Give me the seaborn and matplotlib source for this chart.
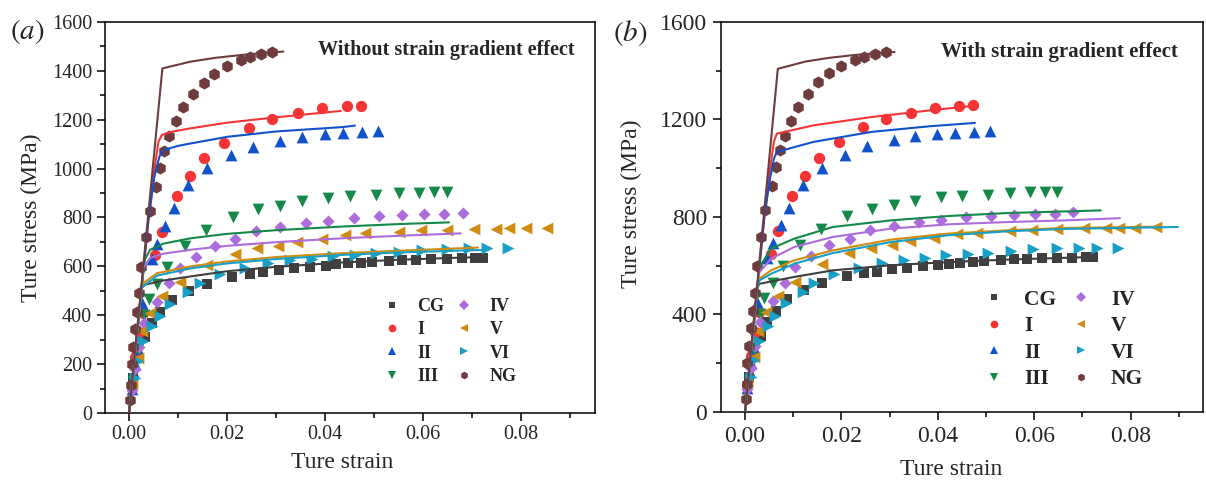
import pandas as pd
import matplotlib.pyplot as plt
import seaborn as sns
from matplotlib.lines import Line2D
from matplotlib.ticker import MultipleLocator, FormatStrFormatter

SERIES = ["CG", "I", "II", "III", "IV", "V", "VI", "NG"]
COLORS = {"CG": "#3f3f3f", "I": "#f53535", "II": "#1052cc", "III": "#14894a",
          "IV": "#ac6cdc", "V": "#d08c12", "VI": "#179fc6", "NG": "#6e3c3c"}
MARKERS = {"CG": "s", "I": "o", "II": "^", "III": "v",
           "IV": "D", "V": "<", "VI": ">", "NG": "h"}
SIZES = {"CG": 42, "I": 66, "II": 72, "III": 72, "IV": 38, "V": 72, "VI": 72, "NG": 76}

# ---- experimental points (same in both panels) ----
cg_strain = [0.0009, 0.0017, 0.0033, 0.0046, 0.0064, 0.0088, 0.0123, 0.016, 0.0211, 0.0247,
             0.0273, 0.0305, 0.0336, 0.0369, 0.0401, 0.0423, 0.0446, 0.0473, 0.0495, 0.053,
             0.0557, 0.0585, 0.0616, 0.0648, 0.0679, 0.0707, 0.0722]
cg_stress = [143, 225, 313, 370, 415, 463, 501, 528, 558, 569, 576, 585, 592, 599, 603, 609,
             613, 615, 618, 622, 626, 628, 630, 632, 633, 635, 635]

i_strain = [0.0005, 0.0012, 0.002, 0.0029, 0.0053, 0.0068, 0.0098, 0.0124, 0.0153, 0.0194,
            0.0245, 0.0292, 0.0345, 0.0394, 0.0444, 0.0473]
i_stress = [110, 230, 330, 409, 647, 742, 888, 970, 1044, 1106, 1168, 1202, 1228, 1246, 1256, 1258]

ii_strain = [0.0005, 0.0012, 0.0019, 0.00255, 0.0046, 0.0057, 0.0074, 0.0091, 0.0121, 0.0159,
             0.0208, 0.0253, 0.0308, 0.0353, 0.0399, 0.0436, 0.0475, 0.0508]
ii_stress = [100, 200, 262, 450, 630, 692, 766, 838, 931, 1002, 1056, 1090, 1115, 1131, 1141,
             1145, 1149, 1153]

iii_strain = [0.0008, 0.0018, 0.0031, 0.004, 0.0057, 0.0078, 0.0115, 0.0157, 0.0212, 0.0264,
              0.0308, 0.0352, 0.0406, 0.045, 0.0504, 0.055, 0.0591, 0.0622, 0.0648]
iii_stress = [130, 260, 402, 466, 528, 599, 684, 749, 803, 833, 848, 867, 881, 886, 892, 899,
              901, 903, 903]

iv_strain = [0.0005, 0.0013, 0.0021, 0.0031, 0.0057, 0.0082, 0.0104, 0.0137, 0.0175, 0.0217,
             0.0259, 0.0308, 0.0361, 0.0406, 0.0459, 0.051, 0.0557, 0.0602, 0.0643, 0.0681]
iv_stress = [95, 180, 272, 368, 456, 531, 595, 639, 684, 711, 745, 761, 779, 787, 799, 806,
             810, 813, 813, 820]

v_strain = [0.0005, 0.0019, 0.0027, 0.0043, 0.0068, 0.0104, 0.0159, 0.0216, 0.0261, 0.0304,
            0.0343, 0.0393, 0.044, 0.0482, 0.055, 0.0596, 0.0648, 0.0703, 0.0749, 0.0776,
            0.081, 0.0853]
v_stress = [122, 225, 334, 409, 477, 534, 606, 651, 674, 684, 701, 714, 729, 735, 742, 748,
            749, 754, 754, 756, 756, 757]

vi_strain = [0.0013, 0.0019, 0.0029, 0.0047, 0.0063, 0.0084, 0.012, 0.0144, 0.0185, 0.0237,
             0.0284, 0.0329, 0.0373, 0.0417, 0.0462, 0.0504, 0.0551, 0.0598, 0.0648, 0.0693,
             0.073, 0.0773]
vi_stress = [143, 214, 293, 354, 395, 447, 494, 531, 568, 592, 613, 624, 632, 643, 647, 654,
             660, 667, 671, 674, 674, 674]

ng_strain = [0.00016, 0.0004, 0.0005, 0.0009, 0.0013, 0.0017, 0.0021, 0.0025, 0.0034, 0.0042,
             0.0055, 0.0064, 0.0072, 0.0082, 0.0096, 0.011, 0.013, 0.0152, 0.0174, 0.02,
             0.0229, 0.0246, 0.027, 0.0292]
ng_stress = [54, 113, 200, 272, 345, 415, 490, 599, 719, 828, 926, 1004, 1073, 1133, 1193,
             1253, 1305, 1352, 1389, 1420, 1446, 1457, 1468, 1477]

# ---- model curves, (a) without strain gradient effect ----
a_cg_strain = [0, 0.00255, 0.0032, 0.007, 0.0126, 0.02, 0.03, 0.0436, 0.055, 0.065, 0.072]
a_cg_stress = [0, 511, 525, 542, 559, 580, 598, 616, 627, 634, 638]
a_i_strain = [0, 0.004, 0.0052, 0.006, 0.0067, 0.009, 0.0126, 0.02, 0.03, 0.0432]
a_i_stress = [0, 800, 1000, 1110, 1138, 1152, 1165, 1188, 1210, 1236]
a_ii_strain = [0, 0.004, 0.0052, 0.0062, 0.0072, 0.01, 0.0126, 0.02, 0.03, 0.0436, 0.0461]
a_ii_stress = [0, 800, 970, 1050, 1077, 1093, 1103, 1130, 1152, 1170, 1176]
a_iii_strain = [0, 0.00255, 0.0032, 0.0043, 0.007, 0.0126, 0.02, 0.03, 0.0436, 0.055, 0.0653]
a_iii_stress = [0, 511, 627, 668, 693, 715, 733, 748, 763, 773, 780]
a_iv_strain = [0, 0.00255, 0.0029, 0.0043, 0.007, 0.0126, 0.02, 0.03, 0.0436, 0.055, 0.0677]
a_iv_stress = [0, 511, 593, 634, 652, 668, 684, 699, 715, 725, 735]
a_v_strain = [0, 0.00255, 0.0029, 0.0057, 0.0126, 0.02, 0.03, 0.0436, 0.055, 0.0712]
a_v_stress = [0, 511, 531, 572, 600, 620, 638, 654, 664, 677]
a_vi_strain = [0, 0.00255, 0.003, 0.0057, 0.0126, 0.02, 0.03, 0.0436, 0.055, 0.072]
a_vi_stress = [0, 511, 520, 562, 592, 612, 630, 647, 657, 667]
a_ng_strain = [0, 0.0068, 0.0126, 0.0175, 0.0229, 0.0275, 0.0315]
a_ng_stress = [0, 1410, 1438, 1453, 1465, 1473, 1479]

# ---- model curves, (b) with strain gradient effect ----
b_cg_strain = [0, 0.00255, 0.003, 0.0102, 0.0182, 0.0302, 0.0422, 0.0542, 0.0722]
b_cg_stress = [0, 511, 526, 554, 581, 602, 615, 625, 636]
b_i_strain = [0, 0.004, 0.0052, 0.006, 0.0066, 0.0142, 0.0262, 0.0382, 0.0477]
b_i_stress = [0, 800, 1000, 1110, 1142, 1176, 1210, 1237, 1257]
b_ii_strain = [0, 0.004, 0.0052, 0.006, 0.0066, 0.0142, 0.0262, 0.0382, 0.0477]
b_ii_stress = [0, 800, 960, 1040, 1067, 1108, 1149, 1172, 1186]
b_iii_strain = [0, 0.00255, 0.003, 0.0054, 0.0102, 0.0182, 0.0302, 0.0422, 0.0542, 0.0738]
b_iii_stress = [0, 511, 595, 670, 711, 759, 786, 804, 816, 827]
b_iv_strain = [0, 0.00255, 0.003, 0.0054, 0.0102, 0.0182, 0.0302, 0.0422, 0.0542, 0.0662, 0.0778]
b_iv_stress = [0, 511, 574, 629, 677, 718, 752, 770, 779, 786, 795]
b_v_strain = [0, 0.00255, 0.003, 0.0054, 0.0102, 0.0182, 0.0302, 0.0422, 0.0542, 0.0662, 0.0854]
b_v_stress = [0, 511, 547, 581, 622, 663, 707, 732, 745, 755, 760]
b_vi_strain = [0, 0.00255, 0.003, 0.0054, 0.0102, 0.0182, 0.0302, 0.0422, 0.0542, 0.0662, 0.0898]
b_vi_stress = [0, 511, 540, 567, 608, 652, 697, 725, 741, 751, 759]
b_ng_strain = [0, 0.0068, 0.0126, 0.0175, 0.0229, 0.0275, 0.031]
b_ng_stress = [0, 1408, 1438, 1453, 1465, 1472, 1477]

EXP = {"CG": (cg_strain, cg_stress), "I": (i_strain, i_stress), "II": (ii_strain, ii_stress),
       "III": (iii_strain, iii_stress), "IV": (iv_strain, iv_stress), "V": (v_strain, v_stress),
       "VI": (vi_strain, vi_stress), "NG": (ng_strain, ng_stress)}
FIT_A = {"CG": (a_cg_strain, a_cg_stress), "I": (a_i_strain, a_i_stress),
         "II": (a_ii_strain, a_ii_stress), "III": (a_iii_strain, a_iii_stress),
         "IV": (a_iv_strain, a_iv_stress), "V": (a_v_strain, a_v_stress),
         "VI": (a_vi_strain, a_vi_stress), "NG": (a_ng_strain, a_ng_stress)}
FIT_B = {"CG": (b_cg_strain, b_cg_stress), "I": (b_i_strain, b_i_stress),
         "II": (b_ii_strain, b_ii_stress), "III": (b_iii_strain, b_iii_stress),
         "IV": (b_iv_strain, b_iv_stress), "V": (b_v_strain, b_v_stress),
         "VI": (b_vi_strain, b_vi_stress), "NG": (b_ng_strain, b_ng_stress)}


def to_long(d):
    rows = []
    for name, (xs, ys) in d.items():
        for x, y in zip(xs, ys):
            rows.append({"series": name, "strain": x, "stress": y})
    return pd.DataFrame(rows)


sns.set_style("ticks")
plt.rcParams["font.family"] = ["Liberation Serif", "DejaVu Serif"]
plt.rcParams["mathtext.fontset"] = "stix"

exp_df = to_long(EXP)


def draw_panel(ax, fits, title, cfg):
    for name in SERIES:
        sub = exp_df[exp_df["series"] == name]
        sns.scatterplot(data=sub, x="strain", y="stress", ax=ax, marker=MARKERS[name],
                        color=COLORS[name], s=SIZES[name], linewidth=0, zorder=2, legend=False)
    fit_df = to_long(fits)
    sns.lineplot(data=fit_df, x="strain", y="stress", hue="series", palette=COLORS,
                 sort=False, estimator=None, lw=1.5, ax=ax, legend=False, zorder=3)

    ax.set_xlim(-0.005, 0.095)
    ax.set_ylim(0, 1600)
    ax.xaxis.set_major_locator(MultipleLocator(0.02))
    ax.xaxis.set_minor_locator(MultipleLocator(0.01))
    ax.xaxis.set_major_formatter(FormatStrFormatter("%.2f"))
    ax.yaxis.set_major_locator(MultipleLocator(cfg["ymaj"]))
    ax.yaxis.set_minor_locator(MultipleLocator(cfg["ymaj"] / 2))
    ax.tick_params(which="both", direction="out", top=False, right=False, width=1.1,
                   labelsize=cfg["tick"], color="black")
    ax.tick_params(which="major", length=6, pad=cfg["pad"])
    ax.tick_params(which="minor", length=3.5)
    for sp in ax.spines.values():
        sp.set_visible(True)
        sp.set_linewidth(1.1)
        sp.set_color("black")

    ax.set_xlabel("Ture strain", fontsize=cfg["label"])
    ax.set_ylabel("Ture stress (MPa)", fontsize=cfg["label"])
    ax.xaxis.set_label_coords(cfg["xl"][0], cfg["xl"][1])
    ax.yaxis.set_label_coords(cfg["yl"][0], cfg["yl"][1])

    ax.text(cfg["title_xy"][0], cfg["title_xy"][1], title, transform=ax.transAxes,
            ha="center", va="center", fontsize=cfg["title"], fontweight="bold")

    handles = [Line2D([], [], ls="none", marker=MARKERS[n], color=COLORS[n],
                      markersize=5.5 if n not in ("CG", "IV") else 4.8, markeredgewidth=0)
               for n in SERIES]
    leg = ax.legend(handles, SERIES, ncol=2, loc="center", bbox_to_anchor=cfg["leg_xy"],
                    frameon=False, prop={"weight": "bold", "size": cfg["leg"]},
                    handlelength=1.0, handletextpad=0.9, columnspacing=cfg["colsp"],
                    labelspacing=cfg["legsp"])
    return leg


fig = plt.figure(figsize=(12.06, 4.8), dpi=100)
ax1 = fig.add_axes([0.0867, 0.1396, 0.4063, 0.8146])
ax2 = fig.add_axes([0.5978, 0.1417, 0.3997, 0.8125])

draw_panel(ax1, FIT_A, "Without strain gradient effect",
           {"ymaj": 200, "tick": 14.5, "label": 17, "title": 14.5, "leg": 13, "legsp": 0.35,
            "colsp": 0.6, "pad": 3, "xl": (0.485, -0.1), "yl": (-0.128, 0.5),
            "title_xy": (0.698, 0.928), "leg_xy": (0.705, 0.183)})
draw_panel(ax2, FIT_B, "With strain gradient effect",
           {"ymaj": 400, "tick": 17, "label": 17, "title": 15, "leg": 15.5, "legsp": 0.3,
            "colsp": 0.65, "pad": 4, "xl": (0.477, -0.12), "yl": (-0.163, 0.533),
            "title_xy": (0.703, 0.923), "leg_xy": (0.71, 0.186)})

fig.text(27 / 1206, 1 - 32 / 480, "$(a)$", fontsize=21, ha="center", va="center")
fig.text(630 / 1206, 1 - 33 / 480, "$(b)$", fontsize=21, ha="center", va="center")

fig.savefig("out.png", dpi=100, facecolor="white")
